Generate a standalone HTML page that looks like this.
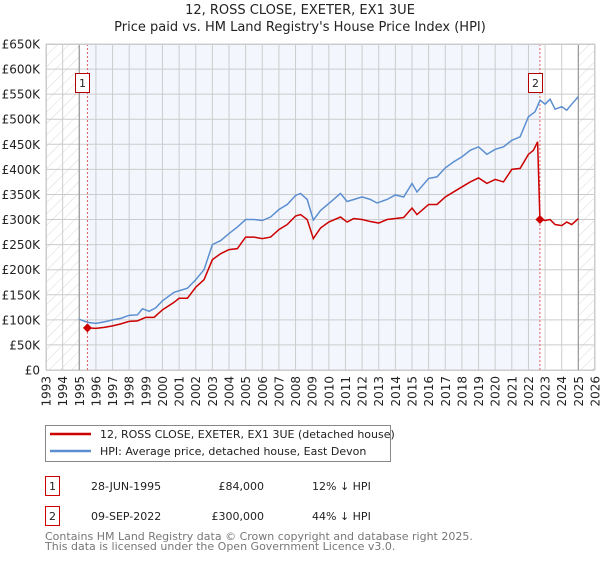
<!DOCTYPE html>
<html><head><meta charset="utf-8"><style>
body{margin:0;background:#fff;font-family:"DejaVu Sans","Liberation Sans",sans-serif;}
svg text{font-family:"DejaVu Sans","Liberation Sans",sans-serif;}
</style></head><body>
<svg id="c" width="600" height="560" viewBox="0 0 600 560" xmlns="http://www.w3.org/2000/svg">
<defs><pattern id="h" width="8" height="8" patternUnits="userSpaceOnUse" patternTransform="rotate(45)"><line x1="0" y1="0" x2="0" y2="8" stroke="#d8d8d8" stroke-width="1"/></pattern></defs>
<text x="300" y="14" text-anchor="middle" font-size="13" fill="#222">12, ROSS CLOSE, EXETER, EX1 3UE</text>
<text x="300" y="31" text-anchor="middle" font-size="13" fill="#222">Price paid vs. HM Land Registry's House Price Index (HPI)</text>
<g id="plot"></g>
<g>
<rect x="45.5" y="425.5" width="345" height="36" fill="#fff" stroke="#888"/>
<line x1="50" y1="434" x2="91" y2="434" stroke="#cc0000" stroke-width="2.5"/>
<text x="100" y="438" font-size="11" fill="#222">12, ROSS CLOSE, EXETER, EX1 3UE (detached house)</text>
<line x1="50" y1="451" x2="91" y2="451" stroke="#5b8fd0" stroke-width="2.5"/>
<text x="100" y="455" font-size="11" fill="#222">HPI: Average price, detached house, East Devon</text>
</g>
<g font-size="11" fill="#222">
<rect x="45.5" y="476.5" width="14" height="19" fill="#fff" stroke="#cc0000"/><text x="52.5" y="490" text-anchor="middle">1</text>
<text x="91" y="490">28-JUN-1995</text><text x="264" y="490" text-anchor="end">£84,000</text><text x="312" y="490">12% ↓ HPI</text>
<rect x="45.5" y="506.5" width="14" height="19" fill="#fff" stroke="#cc0000"/><text x="52.5" y="520" text-anchor="middle">2</text>
<text x="91" y="520">09-SEP-2022</text><text x="264" y="520" text-anchor="end">£300,000</text><text x="312" y="520">44% ↓ HPI</text>
</g>
<text x="45" y="540" font-size="11" fill="#777">Contains HM Land Registry data © Crown copyright and database right 2025.</text>
<text x="45" y="550" font-size="11" fill="#777">This data is licensed under the Open Government Licence v3.0.</text>
</svg>
<script>
const hpiYears=[1995,1995.5,1996,1996.5,1997,1997.5,1998,1998.5,1998.8,1999.2,1999.6,2000,2000.7,2001.5,2002,2002.5,2003,2003.5,2004,2004.5,2005,2005.5,2006,2006.5,2007,2007.5,2008,2008.3,2008.7,2009.07,2009.5,2010.25,2010.7,2011.1,2011.5,2012,2012.5,2012.9,2013.5,2014,2014.5,2015,2015.3,2016,2016.5,2017,2017.5,2018,2018.5,2019,2019.5,2020,2020.5,2021,2021.5,2022,2022.4,2022.7,2023,2023.3,2023.6,2024,2024.3,2024.6,2025];
const hpiValues=[101,95,93,96,100,103,109,110,122,117,124,138,155,163,180,200,250,258,272,285,300,300,298,305,320,330,348,352,340,299,318,339,352,336,340,345,340,333,340,349,345,372,355,382,385,403,415,425,438,445,430,440,445,458,465,505,515,538,530,540,520,525,518,530,545];
const paidYears=[1995.49,1996,1996.5,1997,1997.5,1998,1998.5,1999,1999.5,2000,2000.7,2001,2001.5,2002,2002.5,2003,2003.5,2004,2004.5,2005,2005.5,2006,2006.5,2007,2007.5,2008,2008.3,2008.7,2009.07,2009.5,2010,2010.7,2011.1,2011.5,2012,2012.5,2013,2013.5,2014,2014.5,2015,2015.3,2016,2016.5,2017,2017.5,2018,2018.5,2019,2019.5,2020,2020.5,2021,2021.5,2022,2022.3,2022.55,2022.69,2023,2023.3,2023.6,2024,2024.3,2024.6,2025];
const paidValues=[84,83,85,88,92,97,98,105,105,120,135,143,143,165,180,220,232,240,242,265,265,262,265,280,290,307,310,300,262,283,295,305,295,302,300,296,293,300,302,304,323,310,330,330,345,355,365,375,383,372,380,375,400,402,430,438,455,300,298,300,290,288,295,290,302];
const sales=[{n:'1',year:1995.49,value:84},{n:'2',year:2022.69,value:300}];
const yTicks=[0,50,100,150,200,250,300,350,400,450,500,550,600,650];
const xTicks=[1993,1994,1995,1996,1997,1998,1999,2000,2001,2002,2003,2004,2005,2006,2007,2008,2009,2010,2011,2012,2013,2014,2015,2016,2017,2018,2019,2020,2021,2022,2023,2024,2025,2026];
const X0=46,X1=595,Y0=370,Y1=44;
const xs=y=>X0+(y-1993)/33*(X1-X0);
const ys=v=>Y0-v/650*(Y0-Y1);
const NS='http://www.w3.org/2000/svg';
const g=document.getElementById('plot');
function mk(t,a){const e=document.createElementNS(NS,t);for(const k in a)e.setAttribute(k,a[k]);g.appendChild(e);return e;}
let e;
e=mk('rect',{x:xs(1995.49),y:Y1,width:xs(2022.69)-xs(1995.49),height:Y0-Y1,fill:'#f3f6fd'});


e=mk('rect',{x:X0,y:Y1,width:xs(1995)-X0,height:Y0-Y1,fill:'url(#h)'});


e=mk('rect',{x:xs(2025),y:Y1,width:X1-xs(2025),height:Y0-Y1,fill:'url(#h)'});


yTicks.forEach(v=>{
 e=mk('line',{x1:X0,x2:X1,y1:ys(v),y2:ys(v),stroke:'#ccc','stroke-width':1});
 
 
 e=mk('text',{x:40,y:ys(v)+4.5,'text-anchor':'end','font-size':12,fill:'#222'});
 e.textContent=v===0?'£0':'£'+v+'K';
 
 
});
xTicks.forEach(y=>{
 e=mk('line',{x1:xs(y),x2:xs(y),y1:Y1,y2:Y0,stroke:'#ccc','stroke-width':1});
 
 
 e=mk('text',{transform:`translate(${xs(y)+4.5},${Y0+6}) rotate(-90)`,'text-anchor':'end','font-size':12,fill:'#222'});
 e.textContent=y;
 
 
});
e=mk('line',{x1:xs(1995),x2:xs(1995),y1:Y1,y2:Y0,stroke:'#999','stroke-width':1.2});


e=mk('line',{x1:xs(2025),x2:xs(2025),y1:Y1,y2:Y0,stroke:'#999','stroke-width':1.2});


sales.forEach(s=>{
 e=mk('line',{x1:xs(s.year),x2:xs(s.year),y1:Y1,y2:Y0,stroke:'#e06060','stroke-width':1,'stroke-dasharray':'2,2'});
 
 
});
e=mk('polyline',{points:hpiYears.map((y,i)=>xs(y)+','+ys(hpiValues[i])).join(' '),fill:'none',stroke:'#5b8fd0','stroke-width':1.5});


e=mk('polyline',{points:paidYears.map((y,i)=>xs(y)+','+ys(paidValues[i])).join(' '),fill:'none',stroke:'#cc0000','stroke-width':1.5});


sales.forEach(s=>{
 const cx=xs(s.year),cy=ys(s.value);
 e=mk('polygon',{points:`${cx},${cy-4.5} ${cx+4.5},${cy} ${cx},${cy+4.5} ${cx-4.5},${cy}`,fill:'#cc0000'});
 
 
 e=mk('rect',{x:Math.round(cx-12)+0.5,y:73.5,width:14,height:19,fill:'#fff',stroke:'#b00000'});
 
 
 e=mk('text',{x:Math.round(cx-12)+7.5,y:87,'text-anchor':'middle','font-size':11,fill:'#222'});
 e.textContent=s.n;
 
 
});
e=mk('rect',{x:X0+0.5,y:Y1+0.5,width:X1-X0-1,height:Y0-Y1,fill:'none',stroke:'#ccc'});


</script>
</body></html>
